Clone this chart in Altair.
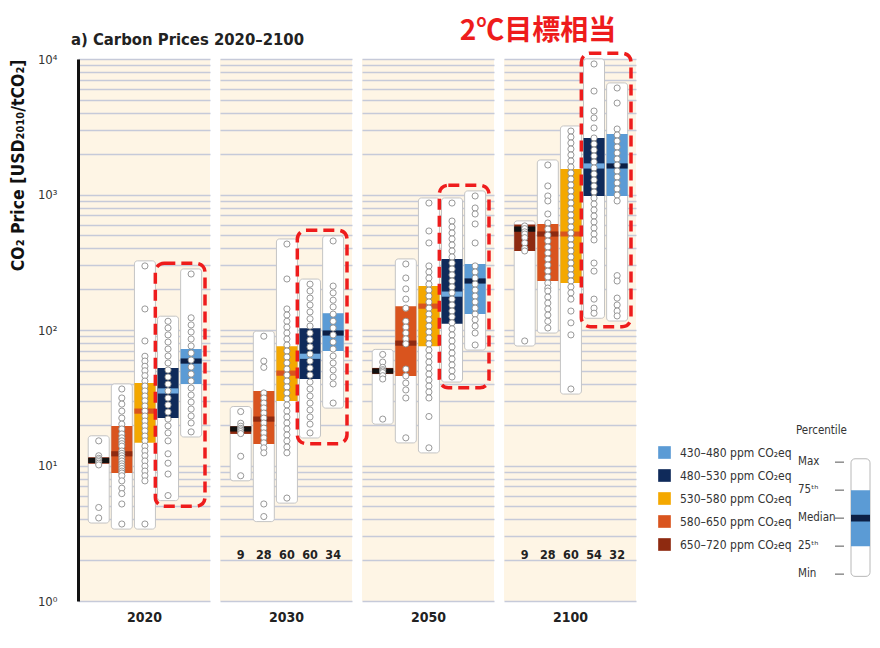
import altair as alt
import pandas as pd

# ---------------- data ----------------
YEARS = ["2020", "2030", "2050", "2100"]
CATEGORIES = ["650–720 ppm CO₂eq", "580–650 ppm CO₂eq", "530–580 ppm CO₂eq",
              "480–530 ppm CO₂eq", "430–480 ppm CO₂eq"]          # left -> right in each panel
LEGEND_ORDER = CATEGORIES[::-1]
BOX_COLORS = ["#5b9bd5", "#0f2a5a", "#f4a800", "#d9541e", "#8e2a10"]      # LEGEND_ORDER
MEDIAN_COLORS = ["#0c1f45", "#6ea8de", "#d9541e", "#8e2a10", "#111111"]   # LEGEND_ORDER

P25 = {"2020": [10.3, 8.8, 14.7, 22.4, 39.9],
       "2030": [17.1, 14.4, 29.9, 43.5, 70],
       "2050": [47.3, 45.8, 76, 111, 131],
       "2100": [383, 230, 222, 975, 975]}
MEDIAN = {"2020": [10.9, 12.2, 25.2, 35.5, 59],
          "2030": [18.6, 22, 48, 64, 95],
          "2050": [49.8, 80, 150, 184, 230],
          "2100": [556, 511, 511, 1624, 1624]}
P75 = {"2020": [11.5, 19.6, 40.6, 52.4, 72.4],
       "2030": [19.5, 35.5, 76, 103, 133],
       "2050": [52.5, 150, 211, 334, 307],
       "2100": [600, 606, 1542, 2612, 2795]}

SCENARIOS = {
    "2020": [
        [15.2, 11.8, 11.3, 11.0, 10.7, 10.4, 10.1, 4.9, 4.1],
        [36.7, 31.5, 28.4, 25.2, 22.4, 20.2, 18.6, 17.1, 16.0, 15.2, 14.5, 13.9, 12.8, 12.3,
         11.8, 11.3, 10.8, 10.3, 9.9, 9.5, 9.1, 8.8, 8.4, 7.7, 6.8, 6.2, 5.2, 3.7],
        [297, 143, 83, 64, 59, 54, 50, 46, 42, 38.6, 35.5, 32.6, 30, 27.5, 25.2, 23.2, 21.3,
         19.6, 18, 16.5, 15.2, 13.9, 12.8, 11.8, 10.8, 9.9, 9.1, 8.4, 7.7, 3.7],
        [116, 103.5, 92, 81.5, 72.4, 64.3, 57.1, 50.7, 45, 39.9, 35.5, 31.5, 28, 24.8, 22,
         19.6, 17.4, 15.2, 12.2, 10.4, 8.65, 6.0],
        [259, 123, 109, 96.7, 85.8, 76.2, 67.6, 60, 53.3, 47.3, 42, 37.3, 33.1, 29.4, 26.1,
         23.2, 20.6, 17.7],
    ],
    "2030": [
        [25, 20.5, 19.5, 18.8, 18.3, 17.8, 17.2, 11.7, 8.4],
        [90, 59, 53, 34.3, 31.5, 28.9, 26.6, 24.4, 22.4, 20.6, 18.9, 17.4, 16, 14.7, 13.5,
         12.4, 5.2, 4.2],
        [431, 238, 143, 129, 116, 105, 95, 85.8, 77.5, 70, 63.2, 57.1, 51.5, 46.5, 42, 38,
         34.3, 31, 28, 25.2, 22.8, 20.6, 18.6, 16.8, 15.2, 13.7, 12.4, 5.75],
        [218, 194, 172, 153, 136, 121, 107, 95, 84.4, 75, 66.5, 59, 52.4, 46.5, 41.3, 36.7,
         32.6, 28.9, 25.7, 22.8, 20.2, 17.4],
        [454, 211, 188, 166, 148, 131, 116, 103.5, 92, 81.5, 72.4, 64.3, 57.1, 50.7, 45, 40,
         28.9],
    ],
    "2050": [
        [66, 58, 53, 51, 49.8, 48.5, 46, 43.5, 22],
        [307, 242, 201, 169, 145, 116, 105, 95, 86, 79, 51.5, 45.8, 40.6, 36.1, 31.5, 16],
        [865, 538, 439, 297, 268, 242, 218, 197, 178, 161, 145, 131, 119, 107, 96.7, 87.3, 79,
         71.2, 64.3, 58, 52.4, 47.3, 42.7, 38.6, 34.9, 31.5, 23, 13.5],
        [865, 637, 575, 520, 470, 424, 383, 346, 312, 282, 255, 230, 208, 188, 169, 153, 138,
         125, 113, 102, 92, 83, 75, 67.6, 61.1, 55.2, 50, 45],
        [975, 795, 718, 606, 439, 297, 268, 242, 218, 197, 178, 161, 145, 131, 119, 107, 95,
         77.5],
    ],
    "2100": [
        [586, 560, 530, 511, 480, 439, 400, 383, 83],
        [1651, 1156, 975, 896, 718, 616, 556, 502, 454, 410, 370, 334, 302, 272, 246, 222, 204,
         194, 175, 158, 143, 129, 116, 103.5],
        [2940, 2655, 2400, 2167, 1958, 1767, 1596, 1442, 1302, 1175, 1061, 959, 865, 782, 706,
         637, 575, 520, 470, 424, 383, 346, 312, 282, 255, 230, 208, 188, 169, 138, 113, 92,
         36.7],
        [9190, 5800, 4130, 3670, 3097, 2612, 2360, 2130, 1923, 1738, 1570, 1417, 1280, 1156,
         1043, 942, 851, 769, 694, 627, 566, 511, 462, 312, 272, 169, 145, 133],
        [6110, 4730, 3043, 2750, 2480, 2242, 2024, 1828, 1651, 1490, 1346, 1216, 1098, 991, 896,
         252, 230, 172, 153, 138, 127],
    ],
}
COUNTS = {"2030": [9, 28, 60, 60, 34], "2100": [9, 28, 60, 54, 32]}
TARGET_GROUPS = [3, 4]          # scenario groups framed as "2℃目標相当"

PCT_NAMES = ["Max", "75ᵗʰ", "Median", "25ᵗʰ", "Min"]
PCT_VALUES = [100, 75, 50, 25, 0]

TITLE = "a) Carbon Prices 2020–2100"
RED_NOTE = "2℃目標相当"
Y_TITLE = "CO₂ Price [USD₂₀₁₀/tCO₂]"

# ---------------- style ----------------
FONT = "'Liberation Sans Narrow', 'DejaVu Sans Condensed', 'Arial Narrow', sans-serif"
CJK = "'Noto Sans CJK JP', sans-serif"
CREAM = "#fef5e5"
RED = "#ee1c1c"
PANEL_W, PANEL_H, GAP = 132, 542, 10
XDOM = [-0.68, 4.6]
BAR_W = 21
RANGE_PAD = 1.09
MED_HALF = 1.045
BOX_PAD = 1.2
COUNT_Y = 2.2

grid_vals = [m * 10 ** k for k in range(4) for m in range(1, 10)] + [10000]
label_expr = ("datum.value == 1 ? '10⁰' : datum.value == 10 ? '10¹' : "
              "datum.value == 100 ? '10²' : datum.value == 1000 ? '10³' : "
              "datum.value == 10000 ? '10⁴' : ''")


def panel(i, year):
    first = i == 0
    rows = []
    for j, cat in enumerate(CATEGORIES):
        vals = SCENARIOS[year][j]
        rows.append(dict(cat=cat, pos=j, lo=min(vals) / RANGE_PAD, hi=max(vals) * RANGE_PAD,
                         p25=P25[year][j], p75=P75[year][j],
                         med_lo=MEDIAN[year][j] / MED_HALF, med_hi=MEDIAN[year][j] * MED_HALF))
    bars = pd.DataFrame(rows)
    pts = pd.DataFrame([dict(cat=cat, pos=j, value=v)
                        for j, cat in enumerate(CATEGORIES) for v in SCENARIOS[year][j]])
    tv = SCENARIOS[year][TARGET_GROUPS[0]] + SCENARIOS[year][TARGET_GROUPS[1]]
    frame = pd.DataFrame([dict(x1=TARGET_GROUPS[0] - 0.55, x2=TARGET_GROUPS[1] + 0.6,
                               y1=min(tv) / BOX_PAD, y2=max(tv) * BOX_PAD)])

    xaxis = alt.Axis(title=year, labels=False, ticks=False, domain=False, grid=False,
                     titleFontSize=14, titleFontWeight="bold", titlePadding=9,
                     titleColor="#222", titleFont=FONT)
    if first:
        yaxis = alt.Axis(title=Y_TITLE, values=grid_vals, labelExpr=label_expr,
                         labelOverlap=False, ticks=False, domain=True, domainColor="#111",
                         domainWidth=3, labelFontSize=13, labelColor="#333", labelPadding=21,
                         titleFontSize=17.5, titleFontWeight="bold", titleAnchor="end",
                         titlePadding=10, titleColor="#111", grid=True)
    else:
        yaxis = alt.Axis(title=None, values=grid_vals, labels=False, ticks=False,
                         domain=False, grid=True)
    xs = alt.Scale(domain=XDOM, nice=False, zero=False)
    ys = alt.Scale(type="log", domain=[1, 10000], nice=False)

    def X(f):
        return alt.X(f, type="quantitative", scale=xs, axis=xaxis)

    def Y(f):
        return alt.Y(f, type="quantitative", scale=ys, axis=yaxis)

    ranges = alt.Chart(bars).mark_bar(size=BAR_W, fill="white", stroke="#c4c4c4",
                                      strokeWidth=1, cornerRadius=3).encode(
        x=X("pos"), y=Y("lo"), y2="hi")
    boxes = alt.Chart(bars).mark_bar(size=BAR_W).encode(
        x=X("pos"), y=Y("p25"), y2="p75",
        color=alt.Color("cat:N", scale=alt.Scale(domain=LEGEND_ORDER, range=BOX_COLORS),
                        title=None,
                        legend=alt.Legend(orient="none", legendX=580, legendY=387,
                                          symbolType="square", symbolSize=160,
                                          symbolStrokeWidth=0, labelFont=FONT,
                                          labelFontSize=12, labelColor="#333",
                                          rowPadding=10, labelOffset=9, padding=0)))
    meds = alt.Chart(bars).mark_bar(size=BAR_W).encode(
        x=X("pos"), y=Y("med_lo"), y2="med_hi",
        fill=alt.Fill("cat:N", scale=alt.Scale(domain=LEGEND_ORDER, range=MEDIAN_COLORS),
                      legend=None))
    circles = alt.Chart(pts).mark_circle(size=38, fill="white", stroke="#8d8d8d",
                                         strokeWidth=0.9, opacity=1).encode(
        x=X("pos"), y=Y("value"))
    red = alt.Chart(frame).mark_rect(fillOpacity=0, stroke=RED, strokeWidth=3.5,
                                     strokeDash=[11, 6], cornerRadius=9).encode(
        x=X("x1"), x2="x2", y=Y("y1"), y2="y2")
    layers = [ranges, boxes, meds, circles, red]
    if year in COUNTS:
        cnt = pd.DataFrame(dict(pos=list(range(5)), n=COUNTS[year], yv=[COUNT_Y] * 5))
        layers.append(alt.Chart(cnt).mark_text(fontSize=12.5, fontWeight="bold",
                                               color="#222", font=FONT).encode(
            x=X("pos"), y=Y("yv"), text="n:Q"))
    if first:
        layers.append(alt.Chart(pd.DataFrame(dict(t=[TITLE]))).mark_text(
            align="left", baseline="alphabetic", fontSize=16.5, fontWeight="bold",
            font=FONT, color="#222").encode(x=alt.value(-7), y=alt.value(-14), text="t:N"))
    if year == YEARS[-1]:
        layers.append(alt.Chart(pd.DataFrame(dict(t=[RED_NOTE]))).mark_text(
            align="center", baseline="middle", fontSize=28, fontWeight="bold",
            font=CJK, color=RED).encode(x=alt.value(34), y=alt.value(-27), text="t:N"))
    return alt.layer(*layers).properties(
        width=PANEL_W, height=PANEL_H,
        view=alt.ViewBackground(fill=CREAM, stroke="transparent"))


panels = [panel(i, y) for i, y in enumerate(YEARS)]

# ---------------- percentile key ----------------
sy = alt.Scale(domain=[-24, 460], nice=False, zero=False)
pct = pd.DataFrame(dict(name=PCT_NAMES, pct=PCT_VALUES))
key_bar = pd.DataFrame(dict(lo=[min(PCT_VALUES) - 2], hi=[max(PCT_VALUES) + 3]))
key_box = pd.DataFrame(dict(lo=[PCT_VALUES[3]], hi=[PCT_VALUES[1]]))
key_med = pd.DataFrame(dict(lo=[PCT_VALUES[2] - 3], hi=[PCT_VALUES[2] + 3]))

k1 = alt.Chart(key_bar).mark_rect(fill="white", stroke="#b8b8b8", strokeWidth=1,
                                  cornerRadius=4).encode(
    x=alt.value(205), x2=alt.value(224), y=alt.Y("lo:Q", scale=sy, axis=None), y2="hi")
k2 = alt.Chart(key_box).mark_rect(fill=BOX_COLORS[0]).encode(
    x=alt.value(205), x2=alt.value(224), y=alt.Y("lo:Q", scale=sy, axis=None), y2="hi")
k3 = alt.Chart(key_med).mark_rect(fill=MEDIAN_COLORS[0]).encode(
    x=alt.value(205), x2=alt.value(224), y=alt.Y("lo:Q", scale=sy, axis=None), y2="hi")
k4 = alt.Chart(pct).mark_text(align="left", baseline="middle", fontSize=11.5,
                              font=FONT, color="#333").encode(
    x=alt.value(152), y=alt.Y("pct:Q", scale=sy, axis=None), text="name:N")
k5 = alt.Chart(pct).mark_rule(stroke="#555", strokeWidth=1).encode(
    x=alt.value(189), x2=alt.value(198), y=alt.Y("pct:Q", scale=sy, axis=None))
k6 = alt.Chart(pd.DataFrame(dict(t=["Percentile"]))).mark_text(
    align="left", baseline="middle", fontSize=11.5, font=FONT, color="#333").encode(
    x=alt.value(150), y=alt.value(372), text="t:N")
key = alt.layer(k1, k2, k3, k4, k5, k6).properties(width=224, height=PANEL_H)

chart = alt.hconcat(*panels, key, spacing=GAP, bounds="flush").properties(
    padding={"left": 1, "top": 10, "right": 0, "bottom": 5}
).configure_view(strokeWidth=0).configure_axis(
    labelFont=FONT, titleFont=FONT, gridColor="#c6cad9", gridWidth=1.6, gridOpacity=1
)

chart.save("out.html", embed_options={"renderer": "svg", "actions": False})
